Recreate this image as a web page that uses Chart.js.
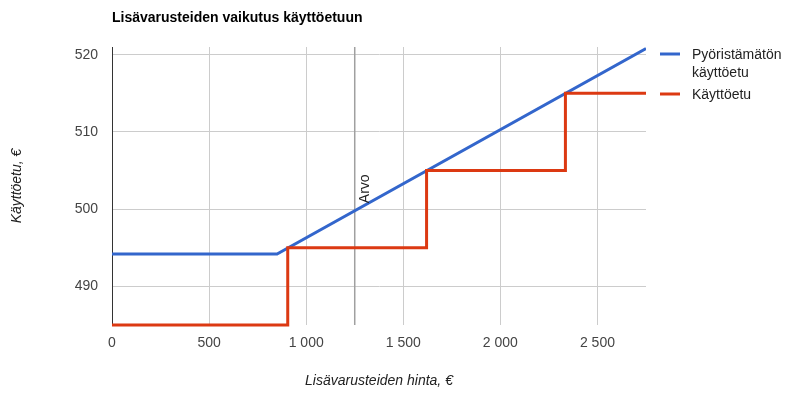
<!DOCTYPE html>
<html>
<head>
<meta charset="utf-8">
<script src="https://cdn.jsdelivr.net/npm/chart.js@4/dist/chart.umd.min.js"></script>
<style>
  html, body { margin: 0; padding: 0; background: #fff; }
  #wrap { width: 789px; height: 396px; }
</style>
</head>
<body>
<div id="wrap"><canvas id="chart" width="789" height="396"></canvas></div>
<script>
// data
const hinta = [0, 850, 2750];
const pyoristamaton = [494.2, 494.2, 520.8];
const porrasHinta = [0, 905, 1620, 2335, 2750];
const kayttoetu = [485, 495, 505, 515, 515];
const xTicks = [0, 500, 1000, 1500, 2000, 2500];
const yTicks = [490, 500, 510, 520];
const arvoX = 1250;
const arvoY = 500;
const seriesNames = ["Pyöristämätön käyttöetu", "Käyttöetu"];
const seriesColors = ["#3366cc", "#dc3912"];

const FONT = "Arial, 'Liberation Sans', sans-serif";

function fmt(v) {
  // finnish thousands separator
  return String(v).replace(/\B(?=(\d{3})+(?!\d))/g, " ");
}

const extras = {
  id: "extras",
  beforeDatasetsDraw(chart) {
    const { ctx, chartArea, scales } = chart;
    const x = scales.x.getPixelForValue(arvoX);
    ctx.save();
    ctx.strokeStyle = "#a0a0a0";
    ctx.lineWidth = 1.5;
    ctx.beginPath();
    ctx.moveTo(x, chartArea.top);
    ctx.lineTo(x, chartArea.bottom);
    ctx.stroke();
    ctx.restore();
  },
  afterDraw(chart) {
    const { ctx, chartArea, scales } = chart;
    ctx.save();
    // title
    ctx.fillStyle = "#000";
    ctx.font = "bold 14px " + FONT;
    ctx.textBaseline = "middle";
    ctx.textAlign = "left";
    ctx.fillText("Lisävarusteiden vaikutus käyttöetuun", chartArea.left, 18);

    // Arvo label
    const ax = scales.x.getPixelForValue(arvoX);
    const ay = scales.y.getPixelForValue(arvoY);
    ctx.translate(ax + 10, ay - 6);
    ctx.rotate(-Math.PI / 2);
    ctx.font = "14px " + FONT;
    ctx.fillStyle = "#222";
    ctx.textBaseline = "middle";
    ctx.fillText("Arvo", 0, 0);
    ctx.setTransform(1, 0, 0, 1, 0, 0);

    // legend
    const lx = chartArea.right + 14;
    const rows = [
      { y: 54, lines: ["Pyöristämätön", "käyttöetu"] },
      { y: 94, lines: [seriesNames[1]] }
    ];
    rows.forEach((r, i) => {
      ctx.strokeStyle = seriesColors[i];
      ctx.lineWidth = 3;
      ctx.beginPath();
      ctx.moveTo(lx, r.y);
      ctx.lineTo(lx + 20, r.y);
      ctx.stroke();
      ctx.fillStyle = "#222";
      ctx.font = "14px " + FONT;
      ctx.textBaseline = "middle";
      r.lines.forEach((t, j) => ctx.fillText(t, lx + 32, r.y + 1 + j * 18));
    });
    ctx.restore();
  }
};

new Chart(document.getElementById("chart"), {
  type: "line",
  data: {
    datasets: [
      {
        label: seriesNames[0],
        data: hinta.map((x, i) => ({ x: x, y: pyoristamaton[i] })),
        borderColor: seriesColors[0],
        borderWidth: 3,
        pointRadius: 0,
        order: 1
      },
      {
        label: seriesNames[1],
        data: porrasHinta.map((x, i) => ({ x: x, y: kayttoetu[i] })),
        borderColor: seriesColors[1],
        borderWidth: 3,
        pointRadius: 0,
        stepped: true,
        clip: false,
        order: 0
      }
    ]
  },
  options: {
    responsive: false,
    animation: false,
    layout: { padding: { top: 47, right: 143, left: 0, bottom: 0 } },
    plugins: {
      legend: { display: false },
      tooltip: { enabled: false }
    },
    scales: {
      x: {
        type: "linear",
        min: 0,
        max: 2750,
        afterBuildTicks: (s) => { s.ticks = xTicks.map(v => ({ value: v })); },
        afterFit: (s) => { s.height = 71; },
        grid: { color: "#ccc", drawTicks: false },
        border: { display: false },
        ticks: {
          padding: 10,
          color: "#444",
          font: { family: FONT, size: 14 },
          callback: (v) => fmt(v)
        },
        title: {
          display: true,
          text: "Lisävarusteiden hinta, €",
          color: "#222",
          font: { family: FONT, size: 14, style: "italic" },
          padding: { top: 0, bottom: 6 }
        }
      },
      y: {
        min: 485,
        max: 521,
        afterBuildTicks: (s) => { s.ticks = yTicks.map(v => ({ value: v })); },
        afterFit: (s) => { s.width = 112; },
        grid: { color: "#ccc", drawTicks: false },
        border: { display: true, color: "#333", width: 1 },
        ticks: {
          padding: 14,
          color: "#444",
          font: { family: FONT, size: 14 },
          callback: (v) => fmt(v)
        },
        title: {
          display: true,
          text: "Käyttöetu, €",
          color: "#222",
          font: { family: FONT, size: 14, style: "italic" },
          padding: { top: 9, bottom: 0 }
        }
      }
    }
  },
  plugins: [extras]
});
</script>
</body>
</html>
